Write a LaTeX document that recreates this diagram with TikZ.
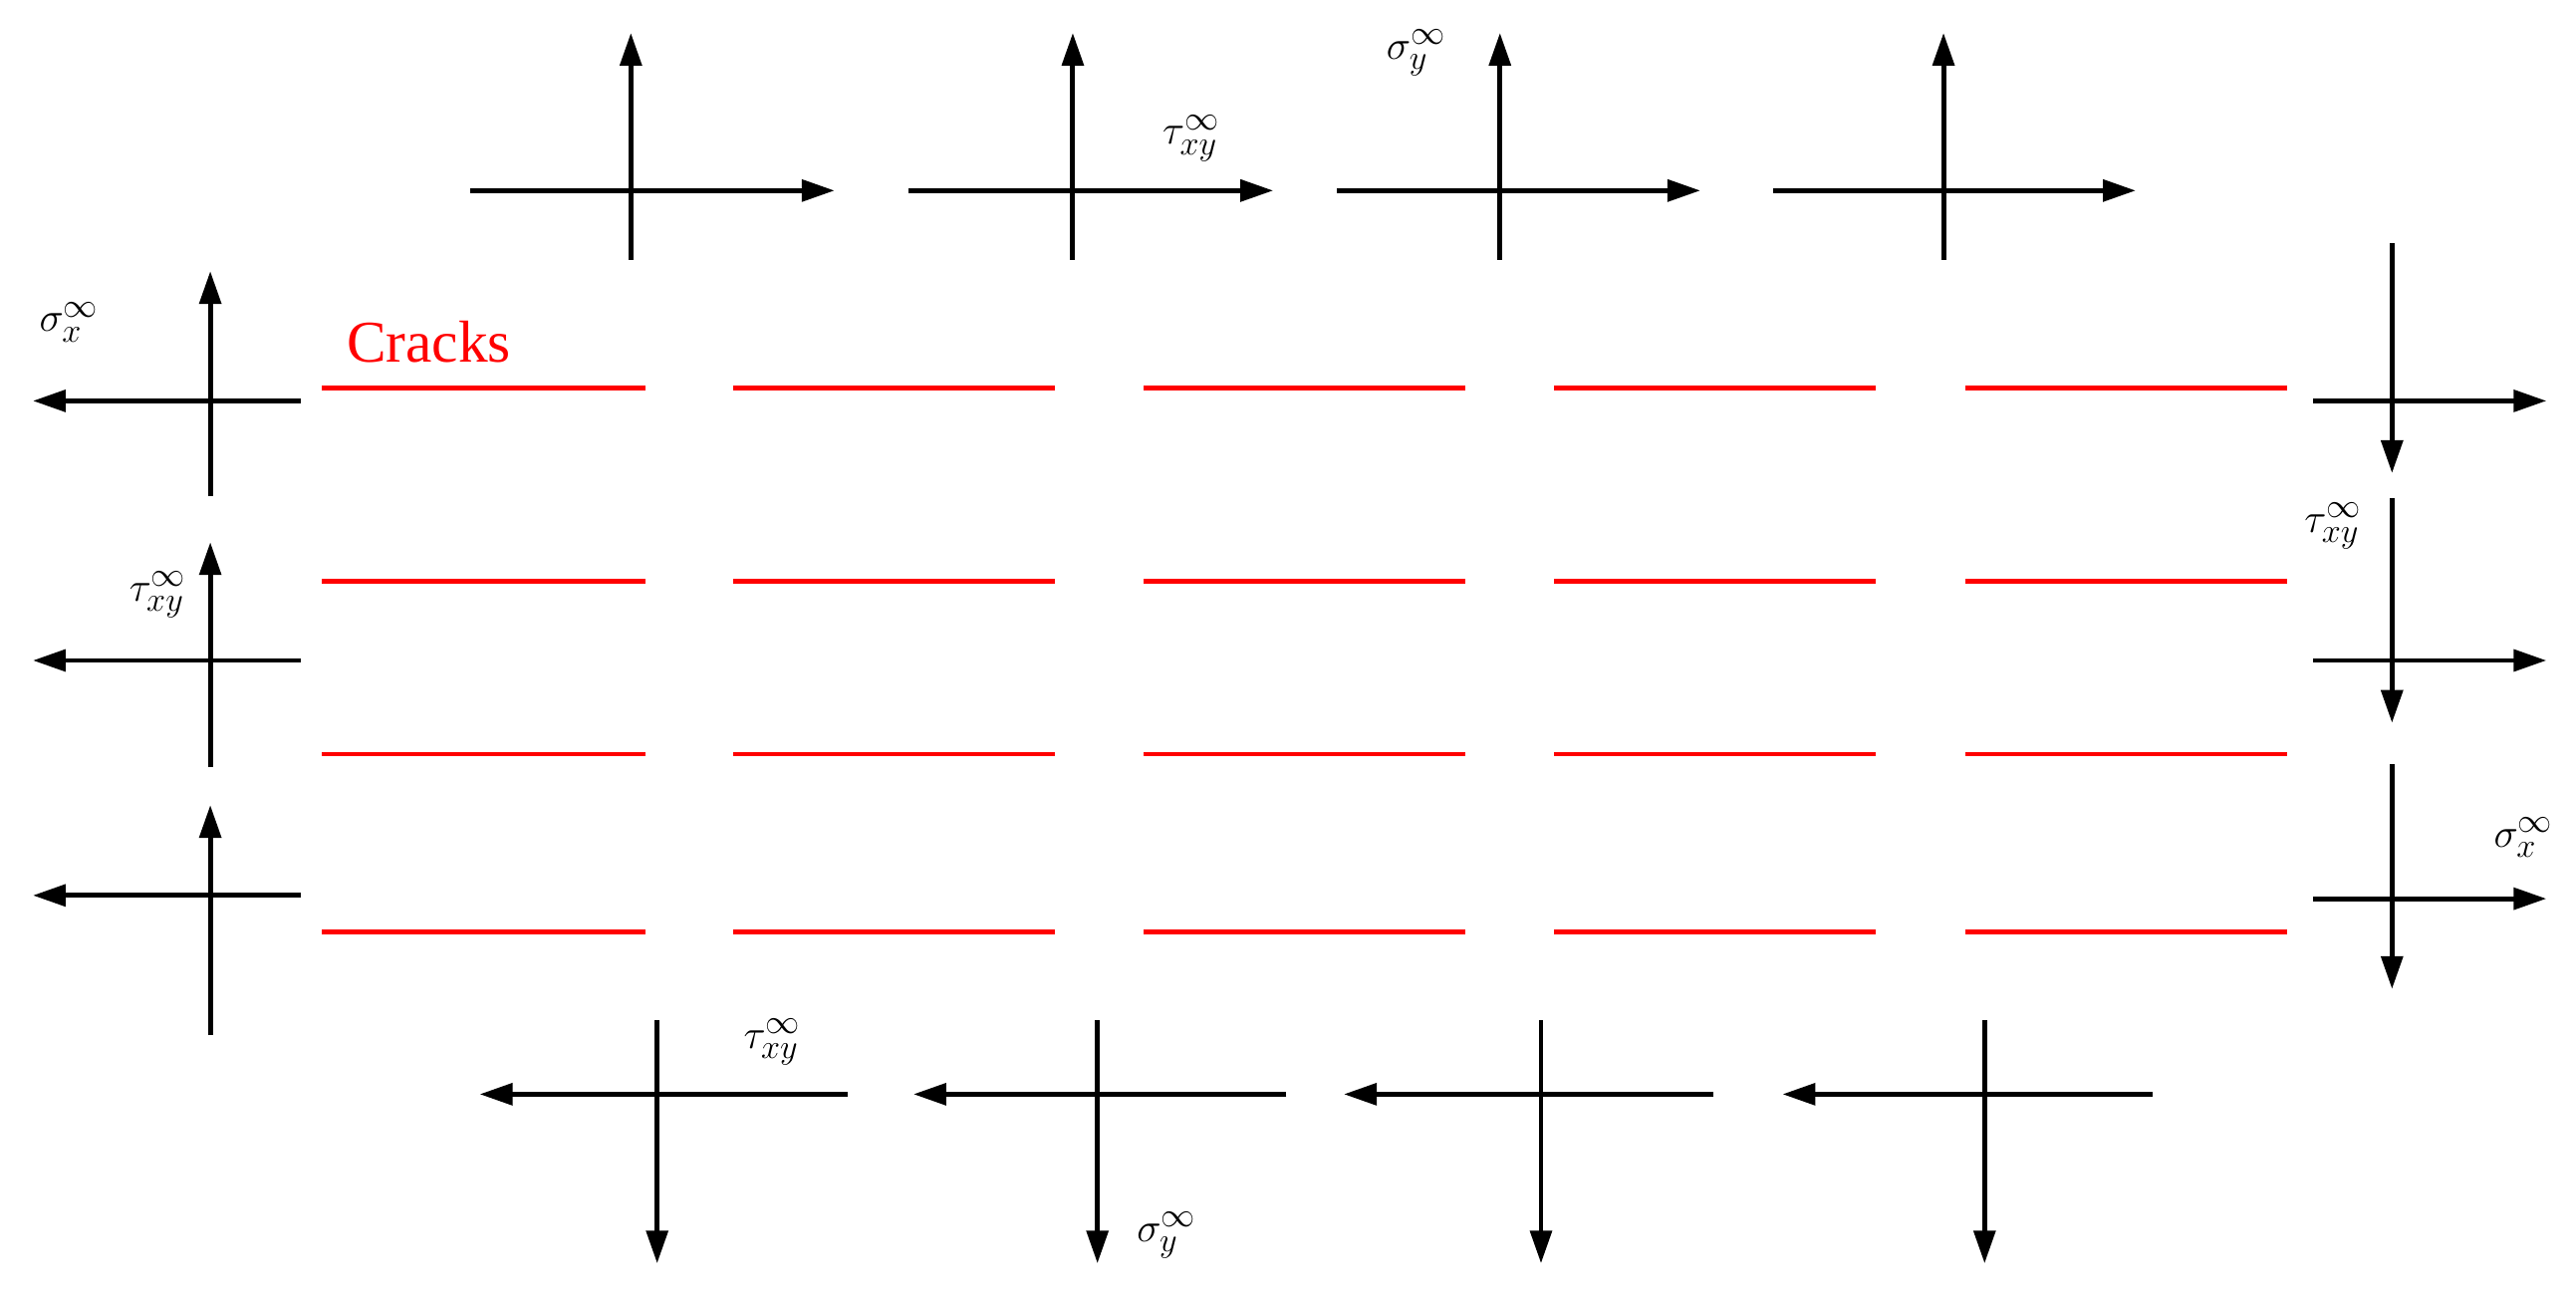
\documentclass[tikz,border=0pt]{standalone}
\usepackage{fontspec}
\setmainfont{Liberation Serif}
\usetikzlibrary{arrows.meta}
\begin{document}
\begin{tikzpicture}[x=1pt,y=-1pt,
  ax/.style={line width=3pt,-{Triangle[length=20pt,width=13pt]}},
  crack/.style={red,line width=3pt},
  lbl/.style={font=\fontsize{32}{32}\selectfont,inner sep=0pt},
  pt/.style={coordinate}]
\useasboundingbox (0,0) rectangle (1568,794);
% top row
\foreach \i/\hx/\hxe/\vx in {1/286/508/384,2/553/775/653,3/814/1035/913,4/1079/1300/1183}{
  \node[pt] (th\i a) at (\hx,116) {}; \node[pt] (th\i b) at (\hxe,116) {};
  \node[pt] (tv\i a) at (\vx,158) {}; \node[pt] (tv\i b) at (\vx,20) {};
  \draw[ax] (th\i a) -- (th\i b); \draw[ax] (tv\i a) -- (tv\i b);}
% bottom row
\foreach \i/\hx/\hxe/\vx in {1/516/292/400,2/783/556/668,3/1043/818/938,4/1310/1085/1208}{
  \node[pt] (bh\i a) at (\hx,666) {}; \node[pt] (bh\i b) at (\hxe,666) {};
  \node[pt] (bv\i a) at (\vx,621) {}; \node[pt] (bv\i b) at (\vx,769) {};
  \draw[ax] (bh\i a) -- (bh\i b); \draw[ax] (bv\i a) -- (bv\i b);}
% left column
\foreach \i/\hy/\vt/\vb in {1/244/302/165,2/402/467/330,3/545/630/490}{
  \node[pt] (lh\i a) at (183,\hy) {}; \node[pt] (lh\i b) at (20,\hy) {};
  \node[pt] (lv\i a) at (128,\vt) {}; \node[pt] (lv\i b) at (128,\vb) {};
  \draw[ax] (lh\i a) -- (lh\i b); \draw[ax] (lv\i a) -- (lv\i b);}
% right column
\foreach \i/\hy/\vt/\vb in {1/244/148/288,2/402/303/440,3/547/465/602}{
  \node[pt] (rh\i a) at (1408,\hy) {}; \node[pt] (rh\i b) at (1550,\hy) {};
  \node[pt] (rv\i a) at (1456,\vt) {}; \node[pt] (rv\i b) at (1456,\vb) {};
  \draw[ax] (rh\i a) -- (rh\i b); \draw[ax] (rv\i a) -- (rv\i b);}
% cracks
\foreach \r/\y in {1/236,2/354,3/459,4/567}{
  \foreach \c/\xa/\xb in {1/196/393,2/446/642,3/696/892,4/946/1142,5/1196/1392}{
    \node[pt] (c\r\c a) at (\xa,\y) {}; \node[pt] (c\r\c b) at (\xb,\y) {};
    \draw[crack] (c\r\c a) -- (c\r\c b);}}
% labels
\node[lbl,red,font=\fontsize{36}{36}\selectfont] (cr) at (261,208) {Cracks};
\node[lbl] (l1) at (725,84) {$\tau_{xy}^{\infty}$};
\node[lbl] (l2) at (862,32) {$\sigma_{y}^{\infty}$};
\node[lbl] (l3) at (42,196) {$\sigma_{x}^{\infty}$};
\node[lbl] (l4) at (96,362) {$\tau_{xy}^{\infty}$};
\node[lbl] (l5) at (1420,320) {$\tau_{xy}^{\infty}$};
\node[lbl] (l6) at (1536,510) {$\sigma_{x}^{\infty}$};
\node[lbl] (l7) at (470,634) {$\tau_{xy}^{\infty}$};
\node[lbl] (l8) at (710,752) {$\sigma_{y}^{\infty}$};
\end{tikzpicture}
\end{document}
